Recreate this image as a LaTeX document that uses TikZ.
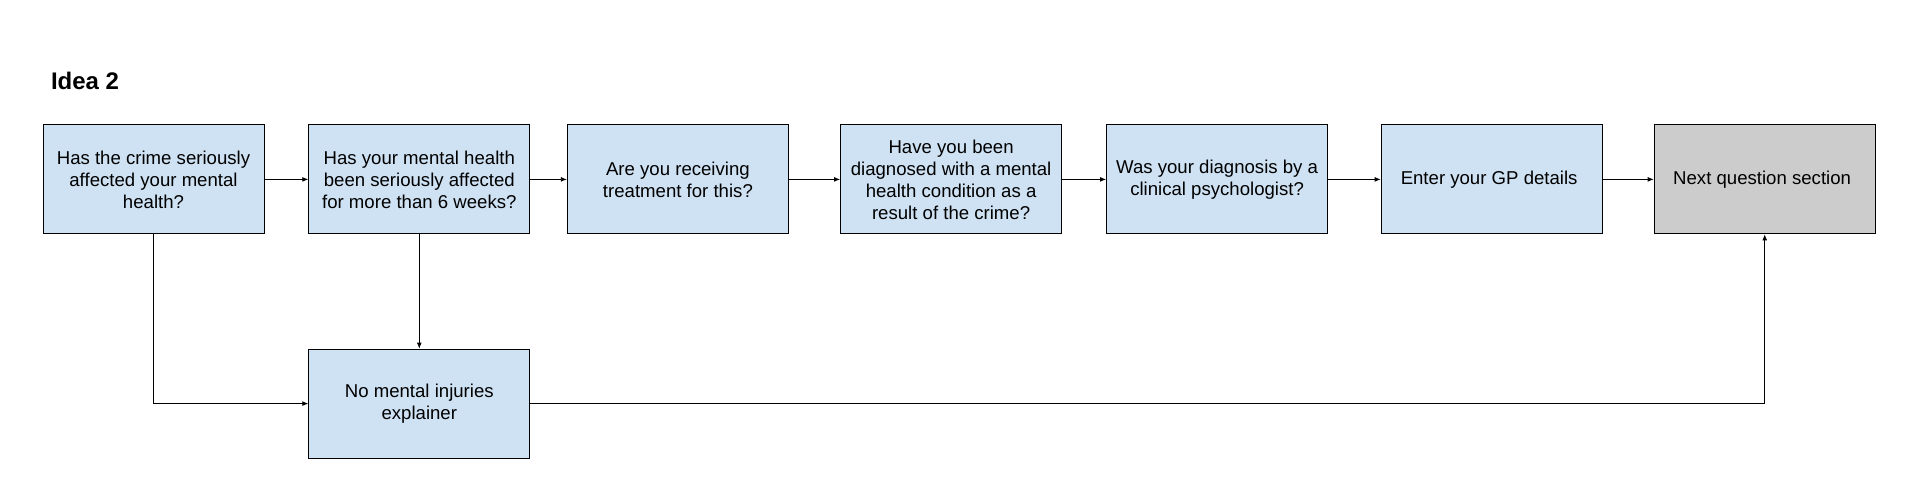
\documentclass[tikz,border=0pt]{standalone}
\usepackage{fontspec}
\setmainfont{Liberation Sans}
\usetikzlibrary{
	arrows.meta,
	positioning
}
\definecolor{qblue}{HTML}{CFE2F3}
\definecolor{qgrey}{HTML}{CCCCCC}

\begin{document}
\begin{tikzpicture}[
		x=0.5pt, y=-0.5pt,
		box/.style={draw, line width=0.5pt, fill=qblue, minimum width=110.5pt, minimum height=54.4pt, inner sep=2pt, align=center, font=\fontsize{9.3}{11}\selectfont},
		arrow/.style={-{Latex[length=3pt,width=2.4pt]}, line width=0.4pt}
		]
		\useasboundingbox (0,0) rectangle (1914,501);
		
		\node[anchor=west, font=\fontsize{12}{14}\selectfont\bfseries] (title) at (44,81) {Idea 2};
		
		\node[box, anchor=north west] (affected) at (42.5,124.5) {
			Has the crime seriously\\
			affected your mental\\
			health?
		};
		
		\node[box, right=21.9pt of affected] (sixweeks) {
			Has your mental health\\
			been seriously affected\\
			for more than 6 weeks?
		};
		
		\node[box, right=18.3pt of sixweeks] (treatment) {
			Are you receiving\\
			treatment for this?
		};
		
		\node[box, right=25.6pt of treatment] (diagnosed) {
			Have you been\\
			diagnosed with a mental\\
			health condition as a\\
			result of the crime?
		};
		
		\node[box, right=22pt of diagnosed] (psychologist) {
			Was your diagnosis by a\\
			clinical psychologist?
		};
		
		\node[box, right=26.3pt of psychologist] (gp) {
			Enter your GP details
		};
		
		\node[box, fill=qgrey, right=25.5pt of gp] (next) {
			Next question section
		};
		
		\node[box, below=57.2pt of sixweeks] (noinjury) {
			No mental injuries\\
			explainer
		};
		
		\draw[arrow] (affected) -- (sixweeks);
		\draw[arrow] (sixweeks) -- (treatment);
		\draw[arrow] (treatment) -- (diagnosed);
		\draw[arrow] (diagnosed) -- (psychologist);
		\draw[arrow] (psychologist) -- (gp);
		\draw[arrow] (gp) -- (next);
		\draw[arrow] (affected.south) |- (noinjury.west);
		\draw[arrow] (sixweeks) -- (noinjury);
		\draw[arrow] (noinjury.east) -| (next.south);
		
	\end{tikzpicture}
\end{document}
